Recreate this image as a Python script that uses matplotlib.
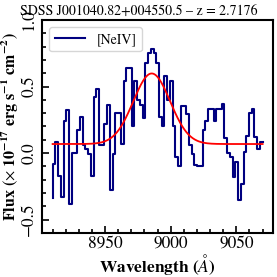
import numpy as np
import matplotlib
matplotlib.use("Agg")
import matplotlib.pyplot as plt

plt.rcParams['font.family'] = 'STIXGeneral'
plt.rcParams['mathtext.fontset'] = 'stix'

# spectrum around [NeIV], flux in 1e-17 erg/s/cm2
wave_start, wave_end = 8910.0, 9070.0
flux = [
    -0.34, -0.08, 0.08, -0.17, -0.33, 0.24, 0.32, -0.38, 0.00, 0.00,
    0.17, 0.27, 0.06, 0.03, -0.01, -0.17, 0.42, 0.48, 0.06, 0.06,
    0.22, 0.36, -0.28, -0.01, 0.30, 0.30, 0.07, 0.54, 0.64, 0.64,
    0.20, 0.54, 0.40, 0.36, 0.26, 0.68, 0.75, 0.78, 0.75, 0.68,
    0.27, 0.20, 0.58, 0.40, 0.54, 0.20, -0.03, -0.10, 0.35, 0.35,
    0.29, 0.06, -0.01, -0.09, -0.10, -0.10, 0.17, 0.24, 0.33, 0.33,
    0.24, 0.33, 0.33, 0.37, 0.11, 0.00, -0.03, -0.18, -0.07, -0.35,
    -0.23, 0.01, 0.13, 0.30, 0.33, 0.12, 0.03, 0.08,
]
wave = np.linspace(wave_start, wave_end, len(flux))

# gaussian fit parameters
fit_base = 0.068
fit_amp = 0.53
fit_center = 8985.5
fit_sigma = 14.0

title = "SDSS J001040.82+004550.5 \u2013 z = 2.7176"

fig = plt.figure(figsize=(2.77, 2.77), dpi=100)
ax = fig.add_axes([0.152, 0.159, 0.834, 0.769])

ax.plot(wave, flux, drawstyle='steps-pre', color='#000080', lw=1.5, label='[NeIV]')
model_x = np.linspace(wave_start, wave_end, 400)
model_y = fit_base + fit_amp * np.exp(-0.5 * ((model_x - fit_center) / fit_sigma) ** 2)
ax.plot(model_x, model_y, color='red', lw=1.3)

ax.set_ylim(-0.6, 1.0)
ax.set_xticks([8950, 9000, 9050])
ax.set_yticks([-0.5, 0.0, 0.5, 1.0])
ax.set_xticks(np.arange(8910, 9080, 10), minor=True)
ax.set_yticks(np.arange(-0.6, 1.01, 0.1), minor=True)
ax.tick_params(which='both', direction='in', labelsize=12.5, width=1.2)
ax.tick_params(which='major', length=5)
ax.tick_params(which='minor', length=3)
ax.tick_params(axis='x', pad=2)
for lab in ax.get_yticklabels():
    lab.set_rotation(90)
    lab.set_va('center')
for sp in ax.spines.values():
    sp.set_linewidth(1.5)

ax.set_xlabel('Wavelength ($Å$)', fontsize=12.5, fontweight='bold', labelpad=0)
ax.set_ylabel(r'Flux ($\times$ $\mathbf{10^{-17}}$ $\mathbf{erg\ s^{-1}\ cm^{-2}}$)',
              fontsize=11.5, fontweight='bold', labelpad=0)
ax.legend(loc='upper left', fontsize=10, handlelength=2.2)
fig.text(0.5, 0.96, title, ha='center', va='center', fontsize=10)

fig.savefig('out.png', dpi=100)
